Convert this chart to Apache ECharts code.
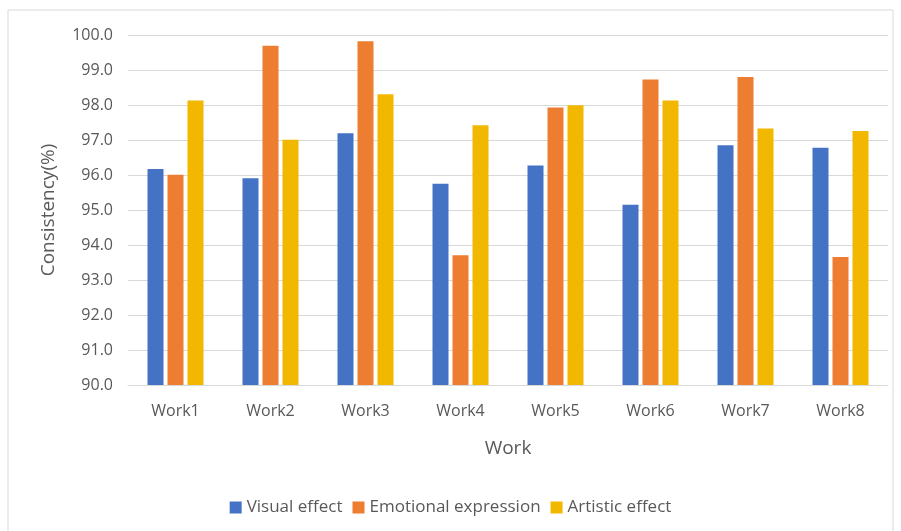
<!DOCTYPE html>
<html>
<head>
<meta charset="utf-8">
<script src="https://cdn.jsdelivr.net/npm/echarts@6/dist/echarts.min.js"></script>
<style>
  html, body { margin: 0; padding: 0; background: #fff; }
  #chart { width: 901px; height: 531px; }
</style>
</head>
<body>
<div id="chart"></div>
<script>
const works = ['Work1', 'Work2', 'Work3', 'Work4', 'Work5', 'Work6', 'Work7', 'Work8'];
const visualEffect = [96.17, 95.91, 97.19, 95.75, 96.27, 95.15, 96.85, 96.78];
const emotionalExpression = [96.01, 99.69, 99.82, 93.71, 97.93, 98.73, 98.80, 93.66];
const artisticEffect = [98.13, 97.01, 98.31, 97.42, 97.99, 98.13, 97.33, 97.26];

const chart = echarts.init(document.getElementById('chart'));
const font = 'Open Sans';

function bar(name, data, color) {
  return {
    name: name,
    type: 'bar',
    data: data,
    barWidth: 16,
    barGap: '25%',
    itemStyle: { color: color }
  };
}

chart.setOption({
  animation: false,
  textStyle: { fontFamily: font },
  graphic: [{
    type: 'rect',
    shape: { x: 8, y: 10, width: 885, height: 540 },
    style: { fill: 'none', stroke: '#d9d9d9', lineWidth: 1 },
    silent: true
  }],
  grid: { left: 128, right: 13, top: 35, bottom: 146 },
  legend: {
    bottom: 10,
    left: 'center',
    itemWidth: 12,
    itemHeight: 12,
    itemGap: 10,
    icon: 'rect',
    textStyle: { color: '#595959', fontSize: 17, fontFamily: font },
    data: ['Visual effect', 'Emotional expression', 'Artistic effect']
  },
  xAxis: {
    type: 'category',
    data: works,
    name: 'Work',
    nameLocation: 'middle',
    nameGap: 54,
    nameTextStyle: { color: '#595959', fontSize: 19 },
    axisLine: { lineStyle: { color: '#d9d9d9' } },
    axisTick: { show: false },
    axisLabel: { color: '#595959', fontSize: 16, margin: 18 }
  },
  yAxis: {
    type: 'value',
    min: 90,
    max: 100,
    interval: 1,
    name: 'Consistency(%)',
    nameLocation: 'middle',
    nameGap: 70,
    nameTextStyle: { color: '#595959', fontSize: 19 },
    axisLine: { show: false },
    axisTick: { show: false },
    axisLabel: {
      color: '#595959',
      fontSize: 16,
      margin: 15,
      formatter: v => v.toFixed(1)
    },
    splitLine: { lineStyle: { color: '#d9d9d9', width: 1 } }
  },
  series: [
    bar('Visual effect', visualEffect, '#4472c4'),
    bar('Emotional expression', emotionalExpression, '#ed7d31'),
    bar('Artistic effect', artisticEffect, '#f2b800')
  ]
});
</script>
</body>
</html>
